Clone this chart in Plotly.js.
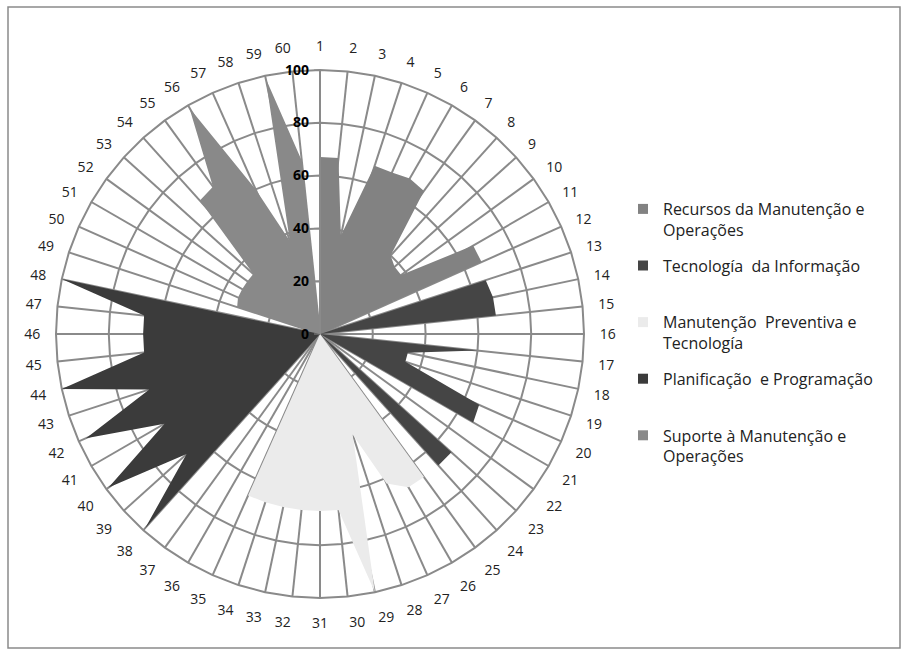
<!DOCTYPE html>
<html>
<head>
<meta charset="utf-8">
<script src="https://cdn.plot.ly/plotly-3.0.1.min.js"></script>
<style>html,body{margin:0;padding:0;background:#fff;}#chart{width:908px;height:655px;}</style>
</head>
<body>
<div id="chart"></div>
<script>
const categories = ["1","2","3","4","5","6","7","8","9","10","11","12","13","14","15","16","17","18","19","20",
  "21","22","23","24","25","26","27","28","29","30","31","32","33","34","35","36","37","38","39","40",
  "41","42","43","44","45","46","47","48","49","50","51","52","53","54","55","56","57","58","59","60"];

const seriesNames = ["Recursos da Manutenção e<br>Operações", "Tecnología  da Informação<br> ",
  "Manutenção  Preventiva e<br>Tecnología", "Planificação  e Programação<br> ", "Suporte à Manutenção e<br>Operações"];

// values per category (1..60)
const recursos = [67,67,38,67,67,68,67,40,38,38,67,67, 0,0,0,0,0,0,0,0,0,0,0,0, 0,0,0,0,0,0,0,0,0,0,0,0, 0,0,0,0,0,0,0,0,0,0,0,0, 0,0,0,0,0,0,0,0,0,0,0,0];
const tecnologia = [0,0,0,0,0,0,0,0,0,0,0,0, 66,67,67,0,60,34,34,66,67,0,67,67, 0,0,0,0,0,0,0,0,0,0,0,0, 0,0,0,0,0,0,0,0,0,0,0,0, 0,0,0,0,0,0,0,0,0,0,0,0];
const manutencao = [0,0,0,0,0,0,0,0,0,0,0,0, 0,0,0,0,0,0,0,0,0,0,0,0, 67,67,62,40,100,67,67,67,67,67,67,0, 0,0,0,0,0,0,0,0,0,0,0,0, 0,0,0,0,0,0,0,0,0,0,0,0];
const planificacao = [0,0,0,0,0,0,0,0,0,0,0,0, 0,0,0,0,0,0,0,0,0,0,0,0, 0,0,0,0,0,0,0,0,0,0,0,0, 0,99,68,99,68,97,68,100,67,67,67,100, 0,0,0,0,0,0,0,0,0,0,0,0];
const suporte = [0,0,0,0,0,0,0,0,0,0,0,0, 0,0,0,0,0,0,0,0,0,0,0,0, 0,0,0,0,0,0,0,0,0,0,0,0, 0,0,0,0,0,0,0,0,0,0,0,0, 33,34,34,34,34,68,69,99,60,37,99,66];

const colors = ["#828282", "#454545", "#ebebeb", "#3b3b3b", "#898989"];
const radialTicks = [0,20,40,60,80,100];

const allSeries = [recursos, tecnologia, manutencao, planificacao, suporte];

const traces = [];
allSeries.forEach((vals, i) => {
  traces.push({
    type: "scatterpolar",
    r: vals,
    theta: categories,
    mode: "none",
    fill: "toself",
    fillcolor: colors[i],
    showlegend: false,
    hoverinfo: "skip"
  });
});
allSeries.forEach((vals, i) => {
  traces.push({
    type: "scatterpolar",
    r: [null],
    theta: [null],
    mode: "markers",
    name: seriesNames[i],
    marker: {symbol: "square", size: 10, color: colors[i]},
    showlegend: true,
    legendgroup: "g" + i
  });
});

const W = 908, H = 655, cx = 320, cy = 334, R = 264;
const layout = {
  width: W, height: H,
  margin: {l: 0, r: 0, t: 0, b: 0},
  paper_bgcolor: "#ffffff",
  font: {family: "Open Sans, sans-serif", color: "#222"},
  polar: {
    domain: {x: [(cx - R) / W, (cx + R) / W], y: [(H - cy - R) / H, (H - cy + R) / H]},
    bgcolor: "#ffffff",
    gridshape: "linear",
    angularaxis: {
      type: "category",
      categoryorder: "array",
      categoryarray: categories,
      direction: "clockwise",
      rotation: 90,
      showline: true,
      linecolor: "#8a8a8a",
      linewidth: 2,
      gridcolor: "#8a8a8a",
      gridwidth: 2,
      ticks: "outside",
      ticklen: 12,
      tickcolor: "rgba(0,0,0,0)",
      tickfont: {size: 14, color: "#222", family: "Open Sans, sans-serif"},
      layer: "above traces"
    },
    radialaxis: {
      range: [0, 100],
      tickvals: radialTicks,
      ticktext: radialTicks.map(String),
      angle: 90,
      tickangle: 90,
      side: "counterclockwise",
      showline: true,
      linecolor: "#8a8a8a",
      linewidth: 2,
      gridcolor: "#8a8a8a",
      gridwidth: 2,
      ticks: "outside",
      ticklen: 5,
      tickcolor: "#8a8a8a",
      tickfont: {size: 14, color: "#000", family: "Open Sans, sans-serif", weight: "bold"},
      layer: "above traces"
    }
  },
  legend: {
    x: 623 / W, y: 1 - 192 / H, xanchor: "left", yanchor: "top",
    font: {size: 16, color: "#222", family: "Open Sans, sans-serif"},
    valign: "top",
    tracegroupgap: 12,
    itemwidth: 30,
    bgcolor: "rgba(0,0,0,0)"
  },
  shapes: [{
    type: "rect", xref: "paper", yref: "paper",
    x0: 8 / W, x1: 900 / W, y0: 1 - 648 / H, y1: 1 - 7 / H,
    line: {color: "#8a8a8a", width: 1.5}
  }]
};

Plotly.newPlot("chart", traces, layout, {displayModeBar: false, staticPlot: true});
</script>
</body>
</html>
